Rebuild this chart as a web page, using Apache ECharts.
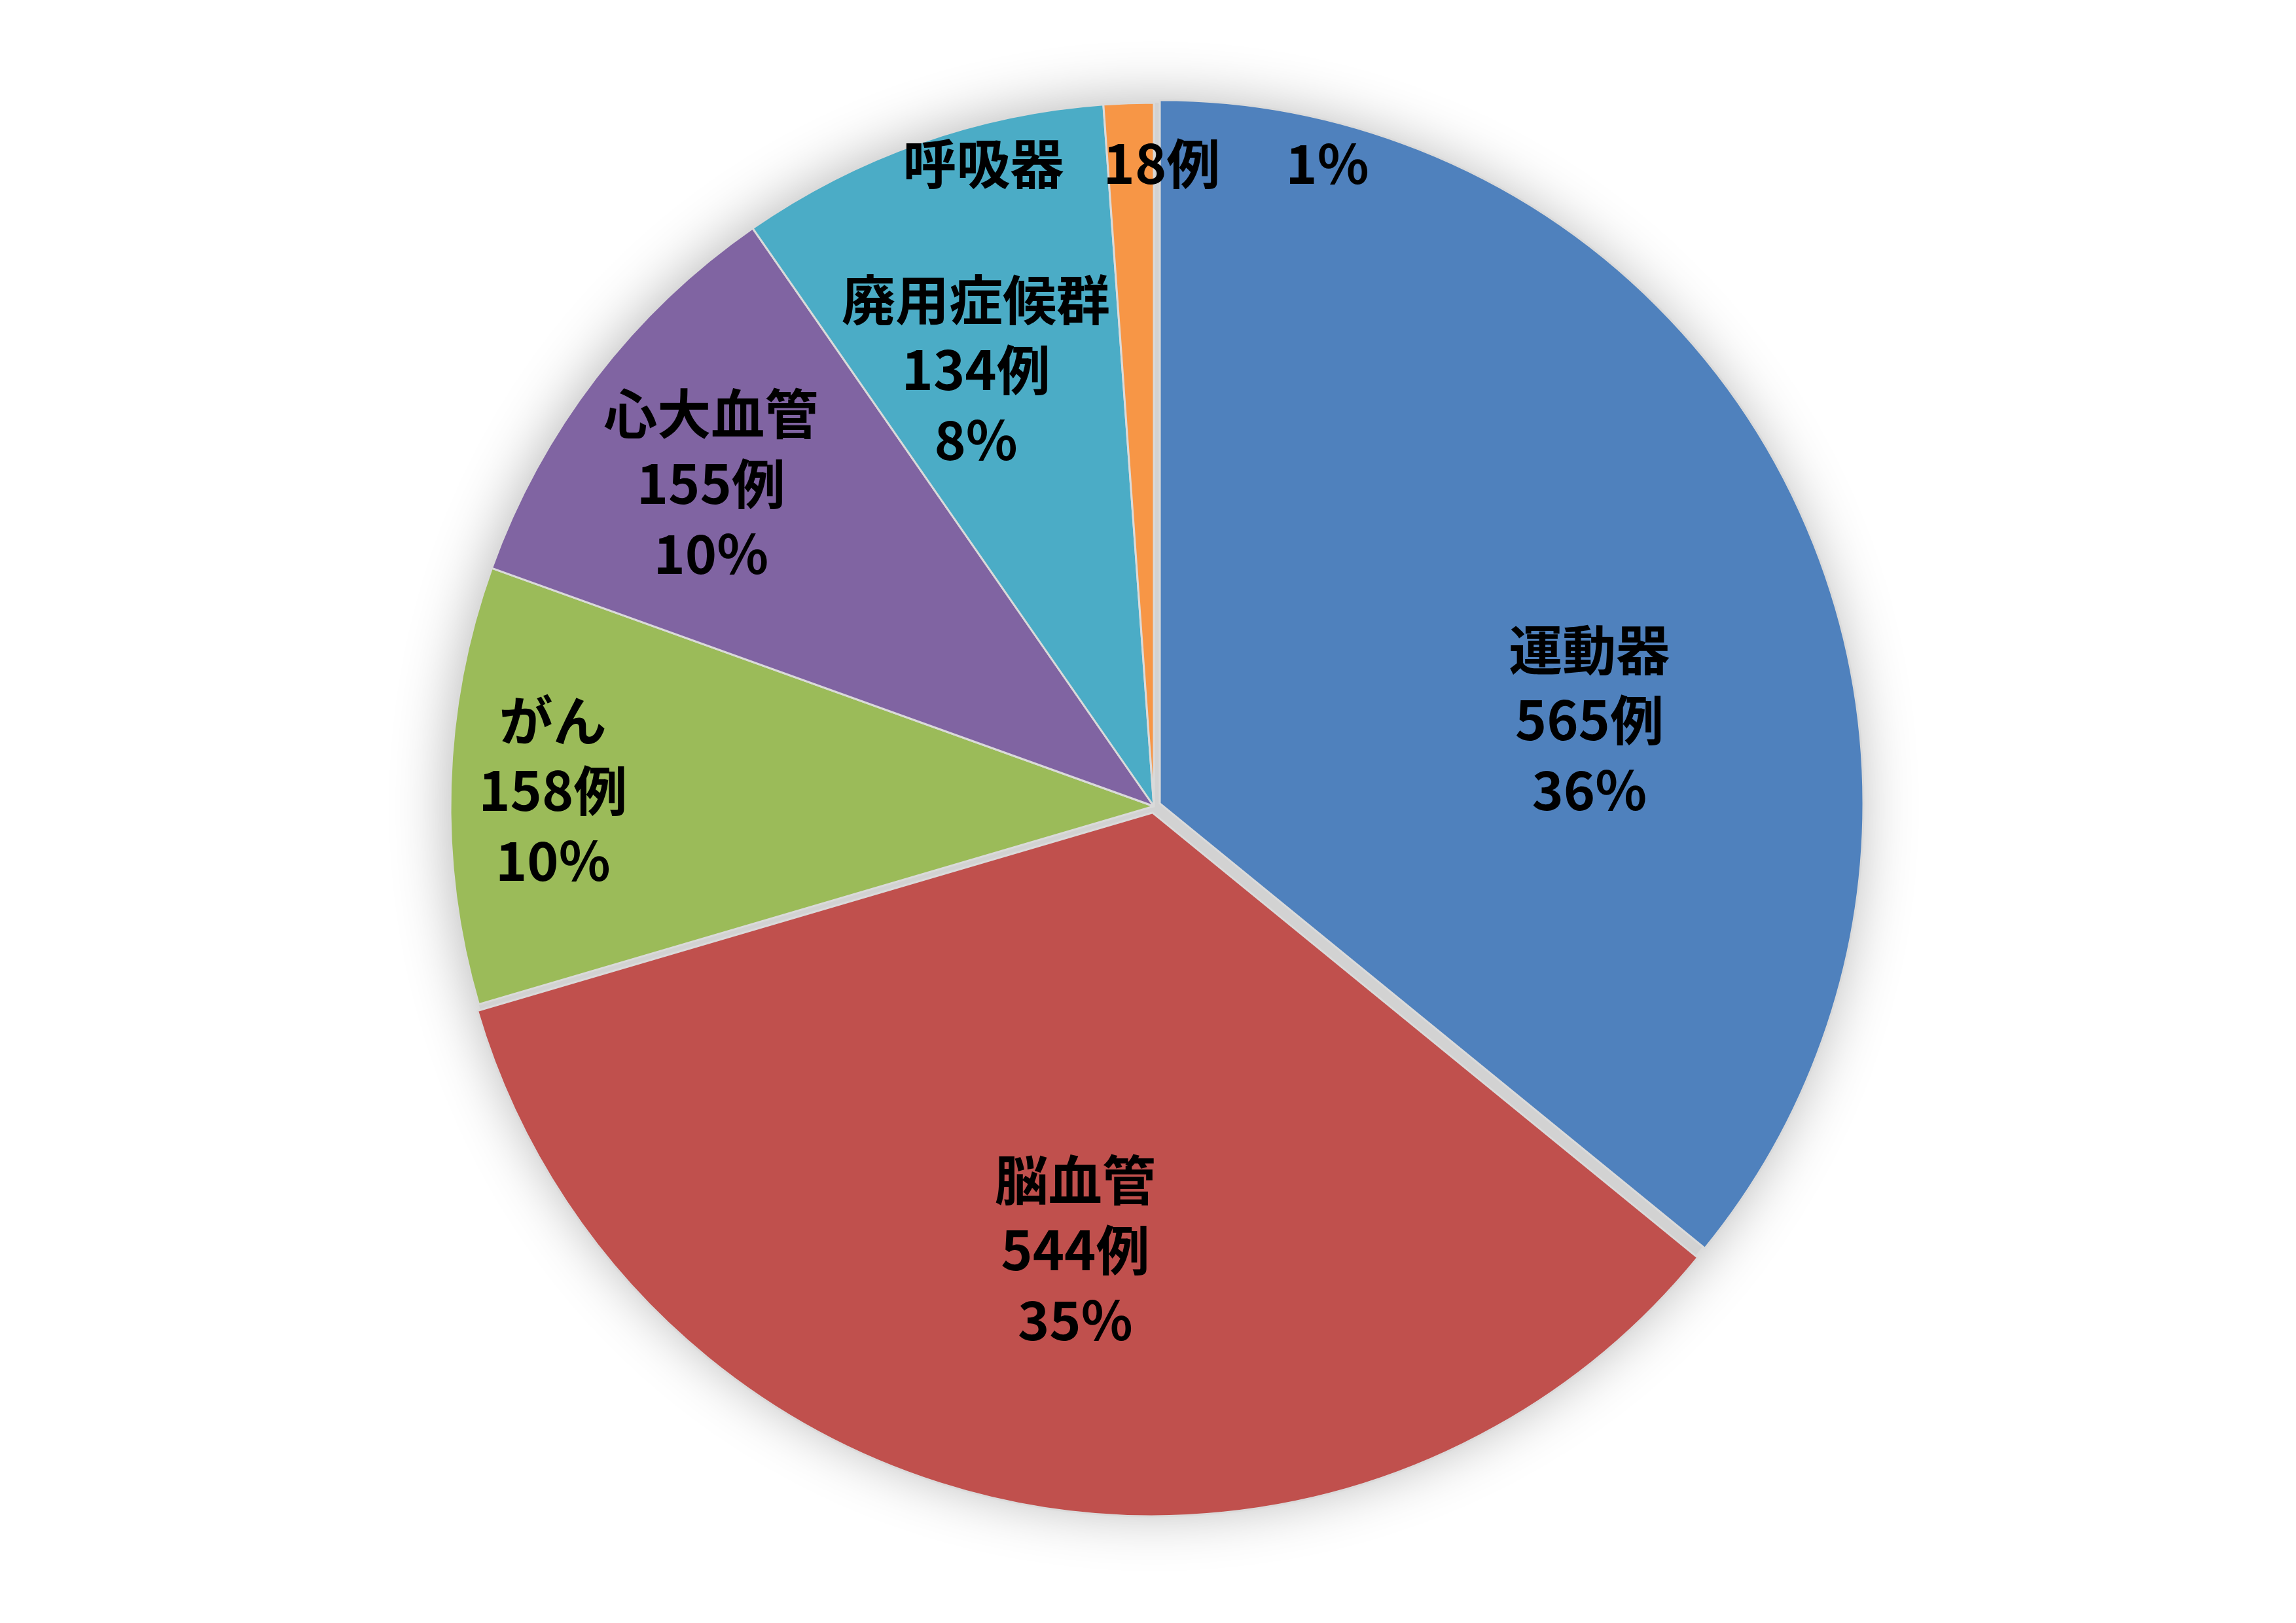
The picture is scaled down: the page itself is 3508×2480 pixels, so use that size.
<!DOCTYPE html>
<html>
<head>
<meta charset="utf-8">
<script src="https://cdn.jsdelivr.net/npm/echarts@6/dist/echarts.min.js"></script>
<style>
html, body { margin: 0; padding: 0; background: #fff; }
#chart { width: 3508px; height: 2480px; }
</style>
</head>
<body>
<div id="chart"></div>
<script>
var categories = ['運動器', '脳血管', 'がん', '心大血管', '廃用症候群', '呼吸器'];
var cases = [565, 544, 158, 155, 134, 18];
var colors = ['#4f81bd', '#c0504d', '#9bbb59', '#8064a2', '#4bacc6', '#f79646'];
var exploded = [true, true, false, false, false, false];
var oneLineLabel = [false, false, false, false, false, true];
// nudges from the default inside spot so labels sit where the original puts them
var labelOffsets = [[168, 104], [-11, 138], [-378, -8], [-248, -164], [-92, -157], [-8, -442]];

var pieCenter = [1763, 1232];
var pieRadius = 1075;

var myChart = echarts.init(document.getElementById('chart'));

var pieData = categories.map(function (name, i) {
    var item = {
        name: name,
        value: cases[i],
        selected: exploded[i],
        itemStyle: { color: colors[i] },
        label: { offset: labelOffsets[i] },
        select: {
            itemStyle: { color: colors[i] },
            label: { offset: labelOffsets[i] }
        }
    };
    if (oneLineLabel[i]) {
        item.label.formatter = '{b}{g1| }{c}例{g2| }{d}%';
    }
    return item;
});

var labelFont = {
    fontFamily: 'Noto Sans CJK JP',
    fontWeight: 'bold',
    fontSize: 82,
    lineHeight: 107,
    color: '#000'
};

option = {
    backgroundColor: '#fff',
    animation: false,
    series: [
        {
            // grey disc under the slices: shadow and the gaps between exploded slices
            type: 'pie',
            silent: true,
            z: 1,
            center: pieCenter,
            radius: pieRadius,
            label: { show: false },
            labelLine: { show: false },
            emphasis: { disabled: true },
            itemStyle: {
                color: '#d2d2d2',
                borderWidth: 0,
                shadowBlur: 90,
                shadowColor: 'rgba(0, 0, 0, 0.3)'
            },
            data: [{ value: 1, name: '' }]
        },
        {
            type: 'pie',
            z: 2,
            center: pieCenter,
            radius: pieRadius,
            startAngle: 90,
            clockwise: true,
            percentPrecision: 0,
            selectedMode: 'multiple',
            selectedOffset: 10,
            avoidLabelOverlap: false,
            emphasis: { disabled: true },
            itemStyle: {
                borderColor: '#dadada',
                borderWidth: 3
            },
            label: Object.assign({
                show: true,
                position: 'inside',
                formatter: '{b}\n{c}例\n{d}%',
                rich: {
                    g1: { width: 60 },
                    g2: { width: 100 }
                }
            }, labelFont),
            labelLine: { show: false },
            data: pieData
        }
    ]
};

myChart.setOption(option);
</script>
</body>
</html>
